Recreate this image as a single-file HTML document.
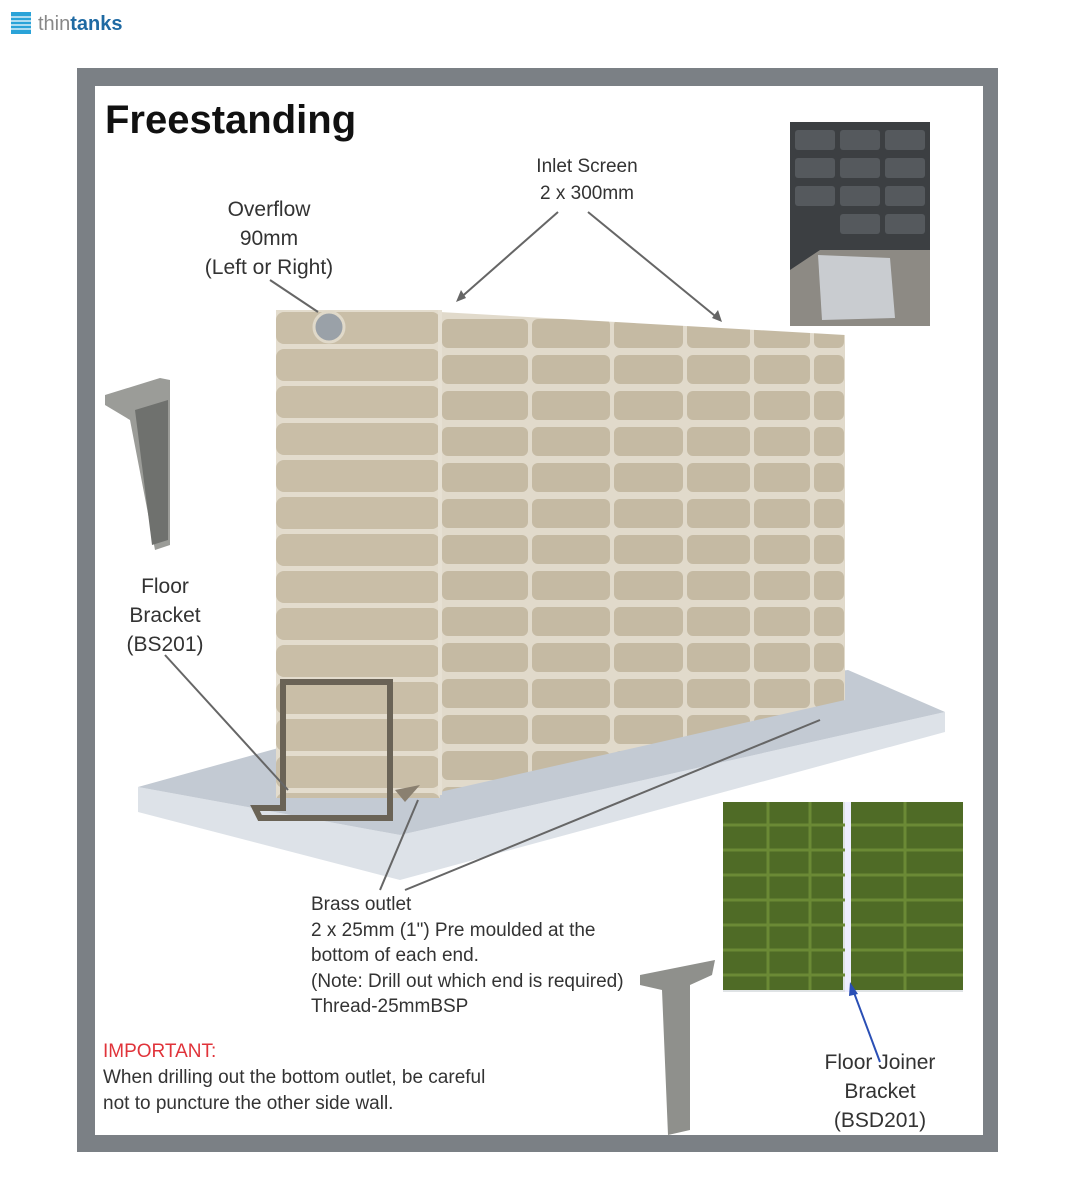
<!DOCTYPE html>
<html><head><meta charset="utf-8"><style>
body{margin:0;width:1080px;height:1200px;background:#fff;overflow:hidden;font-family:"Liberation Sans",sans-serif;position:relative}
.t{position:absolute;color:#333;font-size:21px;line-height:29px}
</style></head><body>
<svg width="1080" height="1200" style="position:absolute;left:0;top:0">
<defs>
<pattern id="bl" x="276" y="310" width="164" height="37" patternUnits="userSpaceOnUse">
<rect width="164" height="37" fill="#e3dccd"/>
<rect x="0" y="2" width="164" height="32" rx="8" fill="#c9bea7"/>
</pattern>
<pattern id="br" x="440" y="316" width="500" height="36" patternUnits="userSpaceOnUse">
<rect width="500" height="36" fill="#e1dacb"/>
<rect x="2" y="3" width="86" height="29" rx="6" fill="#c5baa3"/>
<rect x="92" y="3" width="78" height="29" rx="6" fill="#c5baa3"/>
<rect x="174" y="3" width="69" height="29" rx="6" fill="#c5baa3"/>
<rect x="247" y="3" width="63" height="29" rx="6" fill="#c5baa3"/>
<rect x="314" y="3" width="56" height="29" rx="6" fill="#c5baa3"/>
<rect x="374" y="3" width="30" height="29" rx="6" fill="#c5baa3"/>
</pattern>
</defs>
<g fill="#2aa3d8"><rect x="11" y="12" width="20" height="22"/></g>
<g stroke="#fff" stroke-width="1.2"><line x1="11" y1="17" x2="31" y2="17"/><line x1="11" y1="21" x2="31" y2="21"/><line x1="11" y1="25" x2="31" y2="25"/><line x1="11" y1="29" x2="31" y2="29"/></g>
<text x="38" y="30" font-size="20" fill="#888" font-family="Liberation Sans">thin<tspan fill="#1f6aa3" font-weight="bold">tanks</tspan></text>
<rect x="77" y="68" width="921" height="1084" fill="#7b8085"/>
<rect x="95" y="86" width="888" height="1049" fill="#fff"/>
<polygon points="138,787 400,835 945,712 945,732 400,880 138,812" fill="#dde2e8"/>
<polygon points="138,787 400,835 945,712 848,670 300,742" fill="#c3cad3"/>
<polygon points="440,312 845,335 845,700 440,792" fill="url(#br)"/>
<rect x="276" y="310" width="164" height="488" fill="url(#bl)"/>
<line x1="440" y1="310" x2="440" y2="795" stroke="#e6e0d3" stroke-width="4"/>
<circle cx="329" cy="327" r="15" fill="#9aa1a8" stroke="#e0d9c9" stroke-width="3"/>
<polygon points="283,682 390,682 390,818 260,818 255,808 283,808" fill="none" stroke="#6a6356" stroke-width="6"/>
<polygon points="395,790 420,785 405,802" fill="#8a8070"/>
<g stroke="#666" stroke-width="2" fill="none">
<line x1="558" y1="212" x2="458" y2="300"/><line x1="588" y1="212" x2="720" y2="320"/>
<line x1="270" y1="280" x2="318" y2="312"/>
<line x1="165" y1="655" x2="288" y2="790"/>
<line x1="380" y1="890" x2="418" y2="800"/>
<line x1="405" y1="890" x2="820" y2="720"/>
</g>
<rect x="790" y="122" width="140" height="204" fill="#3c3f42"/>
<g fill="#55595d"><rect x="795" y="130" width="40" height="20" rx="3"/><rect x="840" y="130" width="40" height="20" rx="3"/><rect x="885" y="130" width="40" height="20" rx="3"/>
<rect x="795" y="158" width="40" height="20" rx="3"/><rect x="840" y="158" width="40" height="20" rx="3"/><rect x="885" y="158" width="40" height="20" rx="3"/>
<rect x="795" y="186" width="40" height="20" rx="3"/><rect x="840" y="186" width="40" height="20" rx="3"/><rect x="885" y="186" width="40" height="20" rx="3"/>
<rect x="840" y="214" width="40" height="20" rx="3"/><rect x="885" y="214" width="40" height="20" rx="3"/></g>
<polygon points="790,270 820,250 930,250 930,326 790,326" fill="#8d8a84"/>
<polygon points="818,255 890,258 895,318 822,320" fill="#c9ccd0"/>
<rect x="723" y="802" width="240" height="190" fill="#dfe3e5"/>
<g fill="#4f6b26"><rect x="723" y="802" width="120" height="188"/><rect x="850" y="802" width="113" height="188"/></g>
<g stroke="#6b8a35" stroke-width="3"><line x1="723" y1="825" x2="963" y2="825"/><line x1="723" y1="850" x2="963" y2="850"/><line x1="723" y1="875" x2="963" y2="875"/><line x1="723" y1="900" x2="963" y2="900"/><line x1="723" y1="925" x2="963" y2="925"/><line x1="723" y1="950" x2="963" y2="950"/><line x1="723" y1="975" x2="963" y2="975"/>
<line x1="768" y1="802" x2="768" y2="990"/><line x1="810" y1="802" x2="810" y2="990"/><line x1="905" y1="802" x2="905" y2="990"/></g>
<rect x="845" y="802" width="6" height="190" fill="#eef"/>
<polygon points="105,395 160,378 170,380 170,545 155,550 130,420 105,405" fill="#9b9c98"/>
<polygon points="135,410 168,400 168,540 152,545" fill="#6f716e"/>
<polygon points="640,975 715,960 712,975 690,985 690,1130 668,1135 662,990 640,985" fill="#8f908c"/>
<line x1="880" y1="1062" x2="853" y2="990" stroke="#2a4fb5" stroke-width="2"/>
<polygon points="850,982 858,994 849,996" fill="#2a4fb5"/>
<polygon points="456,302 461,290 466,298" fill="#666"/><polygon points="722,322 712,318 718,310" fill="#666"/>
</svg>
<div style="position:absolute;left:105px;top:98px;font-size:40px;font-weight:bold;color:#111">Freestanding</div>
<div class="t" style="left:512px;top:153px;width:150px;text-align:center;font-size:19px;line-height:27px">Inlet Screen<br>2 x 300mm</div>
<div class="t" style="left:189px;top:195px;width:160px;text-align:center">Overflow<br>90mm<br>(Left or Right)</div>
<div class="t" style="left:105px;top:572px;width:120px;text-align:center">Floor<br>Bracket<br>(BS201)</div>
<div class="t" style="left:311px;top:892px;font-size:19px;line-height:25.5px">Brass outlet<br>2 x 25mm (1") Pre moulded at the<br>bottom of each end.<br>(Note: Drill out which end is required)<br>Thread-25mmBSP</div>
<div class="t" style="left:103px;top:1039px;font-size:19px;line-height:26px"><span style="color:#e0333a">IMPORTANT:</span><br>When drilling out the bottom outlet, be careful<br>not to puncture the other side wall.</div>
<div class="t" style="left:805px;top:1048px;width:150px;text-align:center">Floor Joiner<br>Bracket<br>(BSD201)</div>
</body></html>
